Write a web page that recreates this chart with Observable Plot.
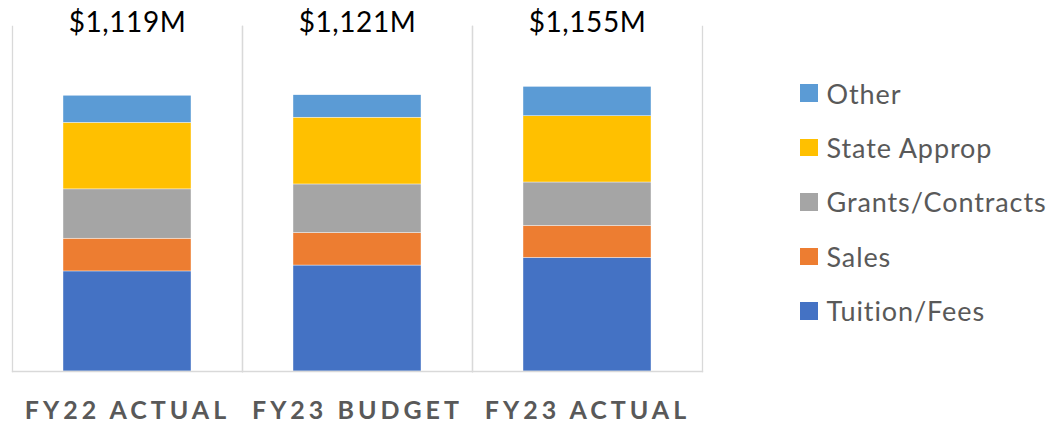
<!DOCTYPE html>
<html>
<head>
<meta charset="utf-8">
<script src="https://cdn.jsdelivr.net/npm/d3@7"></script>
<script src="https://cdn.jsdelivr.net/npm/@observablehq/plot@0.6"></script>
<style>
  html, body { margin: 0; padding: 0; background: #fff; }
  #wrap { position: relative; width: 1051px; height: 424px; font-family: Lato, sans-serif; }
  #chart { position: absolute; left: 0; top: 0; }
  .rev [aria-label="fx-axis tick label"] text { letter-spacing: 4px; }
  .rev [aria-label="text"] text { letter-spacing: 0.6px; }
  #legend { position: absolute; left: 800px; top: 66px; }
  .item { display: flex; align-items: center; height: 54.4px; font-size: 27px; letter-spacing: 0.9px; color: #595959; white-space: nowrap; }
  .sw { width: 17.5px; height: 17.5px; margin-right: 9px; flex: none; }
</style>
</head>
<body>
<div id="wrap"><div id="chart"></div><div id="legend"></div></div>
<script>
const categories = ["FY22 ACTUAL", "FY23 BUDGET", "FY23 ACTUAL"];
const series = ["Tuition/Fees", "Sales", "Grants/Contracts", "State Approp", "Other"];
const colors = ["#4472C4", "#ED7D31", "#A5A5A5", "#FFC000", "#5B9BD5"];
const tuition = [406, 430, 461];
const sales = [133, 132, 130];
const grants = [200, 197, 176];
const state = [270, 271, 269];
const other = [110, 91, 119];
const totals = [1119, 1121, 1155];

const seriesValues = [tuition, sales, grants, state, other];
const data = [];
series.forEach((s, j) => categories.forEach((c, i) => data.push({cat: c, series: s, value: seriesValues[j][i]})));
const totalRows = categories.map((c, i) => ({cat: c, label: "$" + d3.format(",")(totals[i]) + "M"}));

const plot = Plot.plot({
  width: 715,
  height: 424,
  marginLeft: 11,
  marginRight: 13,
  marginTop: 26,
  marginBottom: 53,
  className: "rev",
  style: {fontFamily: "Lato, sans-serif", background: "white"},
  fx: {domain: categories, padding: 0, label: null},
  y: {domain: [0, 1400], axis: null},
  color: {domain: series, range: colors},
  marks: [
    Plot.frame({anchor: "left", stroke: "#d9d9d9", strokeWidth: 1.3}),
    Plot.frame({anchor: "right", stroke: "#d9d9d9", strokeWidth: 1.3}),
    Plot.barY(data, {fx: "cat", y: "value", fill: "series", order: series, insetLeft: 51, insetRight: 51, stroke: "white", strokeWidth: 0.4}),
    Plot.frame({anchor: "bottom", stroke: "#d9d9d9", strokeWidth: 1.3}),
    Plot.text(totalRows, {fx: "cat", text: "label", frameAnchor: "top", lineAnchor: "middle", dy: -3, fontSize: 28, fill: "#000"}),
    Plot.axisFx({anchor: "bottom", tickSize: 0, tickPadding: 30, fontSize: 25, fontWeight: "bold", color: "#595959", label: null})
  ]
});
document.getElementById("chart").appendChild(plot);

const legend = document.getElementById("legend");
series.slice().reverse().forEach((s) => {
  const i = series.indexOf(s);
  const row = document.createElement("div");
  row.className = "item";
  const sw = document.createElement("span");
  sw.className = "sw";
  sw.style.background = colors[i];
  const t = document.createElement("span");
  t.textContent = s;
  row.appendChild(sw);
  row.appendChild(t);
  legend.appendChild(row);
});
</script>
</body>
</html>
